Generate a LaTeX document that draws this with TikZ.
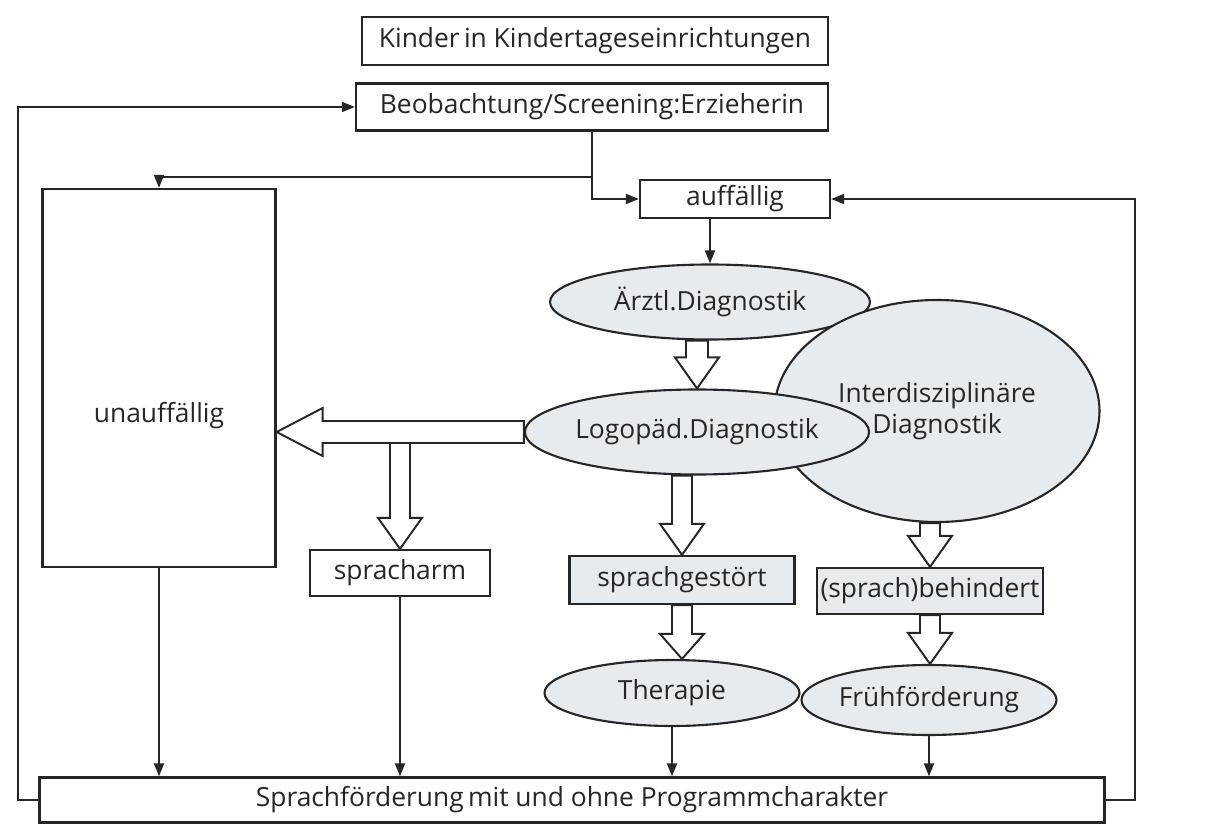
\documentclass[tikz,border=0pt]{standalone}
\usepackage{fontspec}
\setmainfont{Open Sans}
\usetikzlibrary{arrows.meta,calc,positioning,shapes.geometric}
\definecolor{paleblue}{HTML}{E6EBF0}
\definecolor{inkgray}{HTML}{262626}

\begin{document}
\begin{tikzpicture}[
  every node/.style={font=\fontsize{15}{18}\selectfont, text=inkgray},
  box/.style={
    draw=inkgray,
    line width=1.3pt,
    fill=white,
    inner sep=2pt
  },
  shadebox/.style={box, fill=paleblue},
  oval/.style={ellipse, draw=inkgray, line width=1.2pt, fill=paleblue, inner sep=0pt},
  link/.style={-{Triangle[length=2.6mm,width=2mm]}, line width=1pt, inkgray},
  wire/.style={line width=1pt, inkgray},
  fat/.style n args={3}{draw=inkgray, line width=1.1pt, fill=white, line join=miter,
    to path={let \p1=($(\tikztotarget)!#3!(\tikztostart)$) in
      ($(\tikztostart)!#1!90:(\tikztotarget)$) -- ($(\p1)!#1!90:(\tikztotarget)$)
      -- ($(\p1)!#2!90:(\tikztotarget)$) -- (\tikztotarget)
      -- ($(\p1)!#2!-90:(\tikztotarget)$) -- ($(\p1)!#1!-90:(\tikztotarget)$)
      -- ($(\tikztostart)!#1!-90:(\tikztotarget)$) -- cycle}}
]
\useasboundingbox (0,0) rectangle (24.16,16.76);
\fill[white] (0,0) rectangle (24.16,16.76);
% boxes
\node[box, minimum width=9.32cm, minimum height=0.96cm] (kinder) at (11.9,15.94) {Kinder\,in Kindertageseinrichtungen};
\node[box, minimum width=9.44cm, minimum height=0.94cm] (beob) at (11.84,14.62) {Beobachtung/Screening:Erzieherin};
\node[box, minimum width=3.8cm, minimum height=0.76cm] (auff) at (14.7,12.78) {auffällig};
\node[box, minimum width=4.66cm, minimum height=7.56cm,
  label={[yshift=-0.76cm]center:unauffällig}] (unauff) at (3.18,9.2) {};
\node[box, minimum width=3.6cm, minimum height=0.92cm] (sparm) at (8.0,5.3) {spracharm};
\node[shadebox, minimum width=4.5cm, minimum height=0.96cm] (sgest) at (13.64,5.16) {sprachgestört};
\node[shadebox, minimum width=4.5cm, minimum height=0.92cm] (behin) at (18.6,4.94) {(sprach)behindert};
\node[box, minimum width=21.3cm, minimum height=0.9cm] (foerd) at (11.44,0.76) {Sprachförderung\,mit und ohne Programmcharakter};
% ellipses
\node[oval, minimum width=6.4cm, minimum height=1.5cm] (aerztl) at (14.2,10.72) {Ärztl.Diagnostik};
\node[oval, minimum width=6.5cm, minimum height=4.44cm, align=center] (inter) at (18.74,8.54) {Interdisziplinäre\\Diagnostik};
\node[oval, minimum width=6.1cm, minimum height=1.7cm] (logo) at (13.94,8.12) {Logopäd.Diagnostik};
\node[oval, minimum width=5.1cm, minimum height=1.32cm] (ther) at (13.44,2.9) {Therapie};
\node[oval, minimum width=4.44cm, minimum height=1.4cm] (frueh) at (18.58,2.76) {Frühförderung};
% thin connectors
\coordinate (split) at ($(beob.south)+(0,-0.9)$);
\coordinate (lloop) at (0.36,0.76);
\coordinate (rloop) at (22.7,0.76);
\draw[link] (foerd.west) -- (lloop) |- (beob.west);
\draw[link] (foerd.east) -- (rloop) |- (auff.east);
\draw[wire] (beob.south) -- (split);
\draw[link] (split) -| (unauff.north);
\draw[link] (split) |- (auff.west);
\draw[link] (aerztl.north |- auff.south) -- (aerztl.north);
\draw[link] (unauff.south) -- (unauff.south |- foerd.north);
\draw[link] (sparm.south) -- (sparm.south |- foerd.north);
\draw[link] (ther.south) -- (ther.south |- foerd.north);
\draw[link] (frueh.south) -- (frueh.south |- foerd.north);
% hollow arrows
\coordinate (f1) at (logo.north |- aerztl.south);
\coordinate (f2) at (unauff.east |- logo.west);
\coordinate (f3) at ($(sparm.north |- logo.west)+(0,-0.22)$);
\coordinate (f4) at (sgest.north |- logo.south);
\coordinate (f5) at (sgest.south |- ther.north);
\coordinate (f6) at (behin.north |- inter.south);
\coordinate (f7) at (behin.south |- frueh.north);
\draw[fat={0.22cm}{0.44cm}{0.62cm}] (f1) to (logo.north);
\draw[fat={0.22cm}{0.48cm}{0.92cm}] (logo.west) to (f2);
\draw[fat={0.2cm}{0.44cm}{0.62cm}] (f3) to (sparm.north);
\draw[fat={0.2cm}{0.44cm}{0.62cm}] (f4) to (sgest.north);
\draw[fat={0.2cm}{0.44cm}{0.5cm}] (sgest.south) to (f5);
\draw[fat={0.2cm}{0.44cm}{0.62cm}] (f6) to (behin.north);
\draw[fat={0.2cm}{0.44cm}{0.62cm}] (behin.south) to (f7);
\end{tikzpicture}
\end{document}
